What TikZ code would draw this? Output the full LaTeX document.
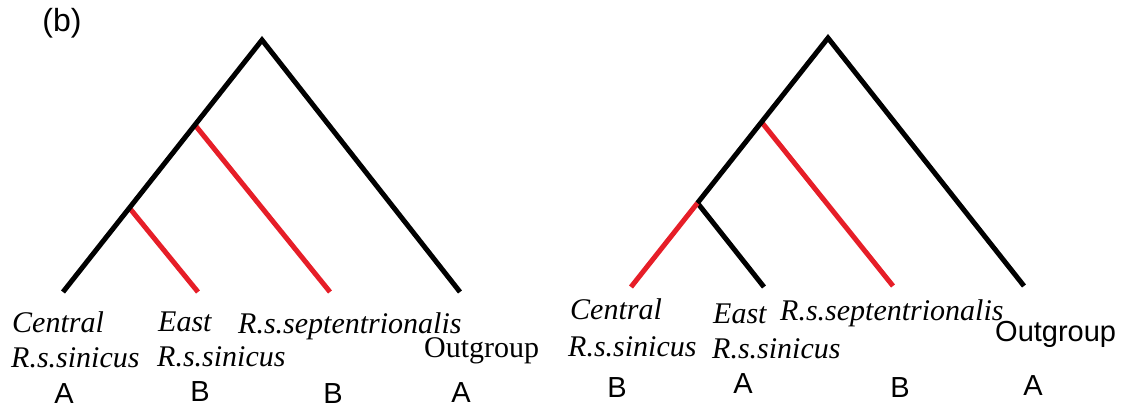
\documentclass[tikz,border=0pt]{standalone}
\usepackage{fontspec}
\setmainfont{Liberation Serif}
\newfontfamily\sansf{Liberation Sans}
\begin{document}
\begin{tikzpicture}[x=1pt,y=-1pt,
  br/.style={line width=5pt,line cap=butt,line join=miter},
  blk/.style={br,black},
  rd/.style={br,draw=treered},
  sp/.style={inner sep=0pt,anchor=base west,font=\fontsize{30}{34}\selectfont\itshape},
  ab/.style={inner sep=0pt,anchor=base,font=\sansf\fontsize{29}{32}\selectfont},
  ]
\definecolor{treered}{RGB}{230,30,40}
\useasboundingbox (0,0) rectangle (1127,414);
\node[inner sep=0pt,font=\sansf\fontsize{32}{36}\selectfont] (lab) at (62,23) {(b)};
% left tree
\coordinate (r1) at (262,40);
\coordinate (a1) at (63,292);
\coordinate (o1) at (460,292);
\coordinate (n1) at (195,125);
\coordinate (m1) at (129.5,208);
\coordinate (s1) at (330,292);
\coordinate (e1) at (198,292);
\draw[rd] (n1) -- (s1);
\draw[rd] (m1) -- (e1);
\draw[blk] (a1) -- (r1) -- (o1);
% right tree
\coordinate (r2) at (828,38);
\coordinate (a2) at (631,287);
\coordinate (o2) at (1024,286);
\coordinate (n2) at (761.5,122);
\coordinate (m2) at (697.5,203);
\coordinate (s2) at (893,286);
\coordinate (e2) at (764,287);
\draw[rd] (n2) -- (s2);
\draw[blk] (m2) -- (e2);
\draw[rd] (m2) -- (a2);
\draw[blk] (m2) -- (r2) -- (o2);
% left labels
\node[sp] (c1a) at (12,332) {Central};
\node[sp] (c1b) at (11,367) {R.s.sinicus};
\node[sp] (e1a) at (158,331) {East};
\node[sp] (e1b) at (157,366) {R.s.sinicus};
\node[sp] (p1) at (238,333) {R.s.septentrionalis};
\node[inner sep=0pt,anchor=base west,font=\fontsize{30}{34}\selectfont] (g1) at (424,357) {Outgroup};
\node[ab] (x1) at (64,403) {A};
\node[ab] (x2) at (200,401) {B};
\node[ab] (x3) at (333,403) {B};
\node[ab] (x4) at (461,402) {A};
% right labels
\node[sp] (c2a) at (570,319) {Central};
\node[sp] (c2b) at (568,356) {R.s.sinicus};
\node[sp] (e2a) at (713,323) {East};
\node[sp] (e2b) at (712,358) {R.s.sinicus};
\node[sp] (p2) at (780,320) {R.s.septentrionalis};
\node[inner sep=0pt,anchor=base west,font=\sansf\fontsize{29}{32}\selectfont] (g2) at (995,341) {Outgroup};
\node[ab] (y1) at (617,397) {B};
\node[ab] (y2) at (743,393) {A};
\node[ab] (y3) at (900,397) {B};
\node[ab] (y4) at (1033,395) {A};
\end{tikzpicture}
\end{document}
